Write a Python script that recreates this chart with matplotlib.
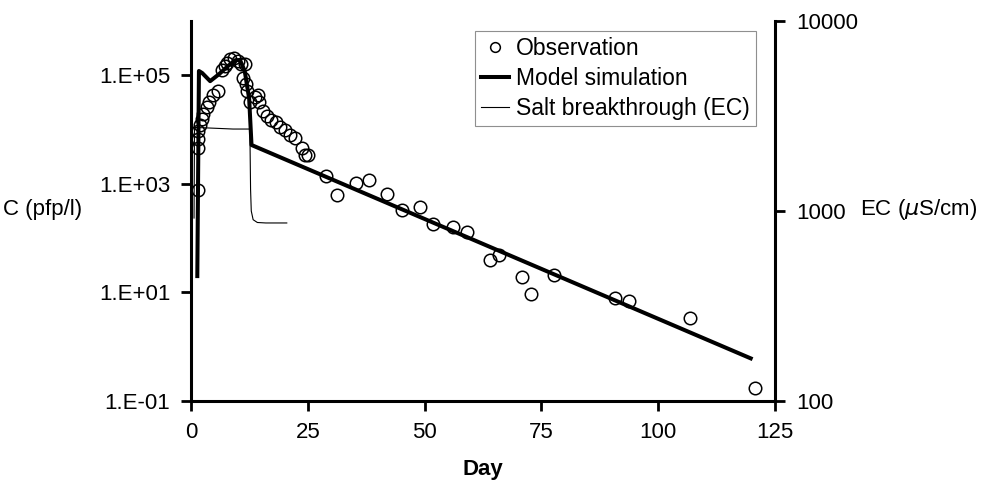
import matplotlib
matplotlib.use('Agg')
import matplotlib.pyplot as plt
from matplotlib.lines import Line2D

plt.rcParams['font.family'] = ['Liberation Sans', 'DejaVu Sans']

# observed phage concentration (pfp/l)
obs_day = [1.43, 1.56, 1.56, 1.56, 1.92, 2.29, 2.63, 3.35, 3.85, 4.76, 5.71,
           6.56, 7.26, 7.8, 8.33, 9.25, 10.1, 10.8, 11.5, 11.2, 11.75, 12.0,
           12.6, 13.7, 14.4, 14.6, 15.4, 16.2, 17.2, 18.2, 19.0, 20.1, 21.2,
           22.2, 23.7, 24.4, 25.1, 29.0, 31.3, 35.3, 38.1, 42.0, 45.1, 49.0,
           51.9, 56.0, 59.0, 63.9, 65.9, 70.9, 72.8, 77.8, 90.7, 93.7, 106.7,
           120.7]
obs_c = [780, 4500, 6800, 9300, 1.2e4, 1.55e4, 1.95e4, 2.6e4, 3.2e4, 4.3e4,
         5.2e4, 1.23e5, 1.5e5, 1.7e5, 2.0e5, 2.1e5, 1.85e5, 1.6e5, 1.6e5,
         9.1e4, 6.9e4, 5.2e4, 3.2e4, 4.0e4, 4.3e4, 3.2e4, 2.2e4, 1.8e4, 1.5e4,
         1.4e4, 1.1e4, 9800, 8100, 6900, 4500, 3400, 3400, 1400, 630, 1020,
         1170, 650, 330, 370, 180, 160, 130, 40, 49, 19.5, 9.5, 21, 7.9, 6.9,
         3.4, 0.17]

# model simulation
model_day = [1.35, 1.7, 2.4, 4.1, 6.0, 8.0, 9.5, 10.5, 11.5, 12.45, 12.95, 119.8]
model_c = [20, 1.2e5, 1.1e5, 7.8e4, 1.05e5, 1.5e5, 1.9e5, 1.9e5, 1.2e5, 3.7e4,
           5.2e3, 0.61]

# salt breakthrough, EC (uS/cm)
ec_day = [0.65, 0.75, 1.0, 3.0, 6.0, 9.0, 12.6, 12.75, 12.9, 13.3, 14.2, 16.0, 20.5]
ec_val = [918, 2750, 2750, 2740, 2720, 2700, 2700, 1300, 1000, 900, 870, 865, 865]

xticks = [0, 25, 50, 75, 100, 125]
cticks = [0.1, 10, 1e3, 1e5]
clabels = ['1.E-01', '1.E+01', '1.E+03', '1.E+05']
ecticks = [100, 1000, 10000]
eclabels = ['100', '1000', '10000']

fig = plt.figure(figsize=(9.82, 4.8), dpi=100)
ax = fig.add_axes([191/982, 1-401/480, (775-191)/982, (401-21)/480])
ax2 = ax.twinx()

ax.plot(obs_day, obs_c, 'o', ms=9, mfc='none', mec='black', mew=1.1, zorder=3)
ax.plot(model_day, model_c, '-', color='black', lw=2.9, zorder=2)
ax2.plot(ec_day, ec_val, '-', color='black', lw=0.8)

ax.set_yscale('log')
ax.set_ylim(0.1, 1e6)
ax.set_xlim(0, 125)
ax.set_xticks(xticks)
ax.set_yticks(cticks)
ax.set_yticklabels(clabels)
ax.minorticks_off()

ax2.set_yscale('log')
ax2.set_ylim(100, 10000)
ax2.set_yticks(ecticks)
ax2.set_yticklabels(eclabels)
ax2.minorticks_off()

for a in (ax, ax2):
    a.spines['top'].set_visible(False)
    for s in a.spines.values():
        s.set_linewidth(2.2)
    a.tick_params(width=2, length=7, labelsize=16, pad=8)
ax.spines['right'].set_visible(False)
ax2.spines['left'].set_visible(False)
ax2.spines['bottom'].set_visible(False)

ax.set_xlabel('Day', fontsize=16, fontweight='bold', labelpad=12)
fig.text(3/982, 1-209/480, 'C (pfp/l)', fontsize=16, ha='left', va='center')
fig.text(860/982, 1-209/480, r'EC ($\mu$S/cm)', fontsize=16, ha='left', va='center')

handles = [Line2D([], [], ls='none', marker='o', ms=7, mfc='none', mec='black', mew=1.1),
           Line2D([], [], color='black', lw=2.9),
           Line2D([], [], color='black', lw=0.8)]
labels = ['Observation', 'Model simulation', 'Salt breakthrough (EC)']
leg = fig.legend(handles, labels, loc='upper left', bbox_to_anchor=(475/982, 1-31/480),
                 frameon=True, fancybox=False, edgecolor='0.45', borderpad=0.25,
                 labelspacing=0.32, handlelength=1.25, handletextpad=0.3,
                 borderaxespad=0, fontsize=16.5)
leg.get_frame().set_linewidth(0.8)

fig.savefig('out.png', dpi=100)
